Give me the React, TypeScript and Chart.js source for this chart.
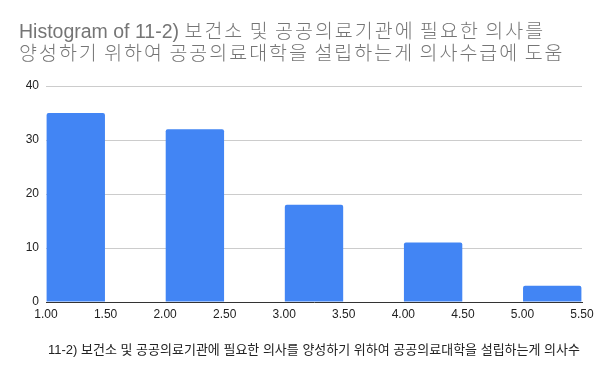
import React, { useEffect, useRef } from "react";
import { Chart, registerables } from "chart.js";

Chart.register(...registerables);

const titleLines = [
  "Histogram of 11-2) 보건소 및 공공의료기관에 필요한 의사를",
  "양성하기 위하여 공공의료대학을 설립하는게 의사수급에 도움",
];
const xAxisTitle = "11-2) 보건소 및 공공의료기관에 필요한 의사를 양성하기 위하여 공공의료대학을 설립하는게 의사수";
const binStarts = [1.0, 1.5, 2.0, 2.5, 3.0, 3.5, 4.0, 4.5, 5.0];
const counts = [35, 0, 32, 0, 18, 0, 11, 0, 3];
const xMin = 1.0;
const xMax = 5.5;
const xStep = 0.5;
const yMax = 40;
const yStep = 10;

const FONT = "Arial, 'Liberation Sans', 'Noto Sans CJK KR', sans-serif";
const TITLE_LATIN = "19.5px Arial, 'Liberation Sans', sans-serif";
const TITLE_HANGUL = "300 19.5px 'Noto Sans CJK KR', sans-serif";
const HANGUL_SPACING = "2px";
const HANGUL_RE = /([\u3131-\u318E\uAC00-\uD7A3]+)/;

const mixedTitle = {
  id: "mixedTitle",
  afterDraw(chart: any) {
    const ctx = chart.ctx as any;
    ctx.save();
    ctx.fillStyle = "#757575";
    ctx.textBaseline = "alphabetic";
    ctx.textAlign = "left";
    titleLines.forEach((line, i) => {
      let x = 19;
      const y = 38 + i * 22;
      line.split(HANGUL_RE).forEach((run) => {
        if (!run) return;
        const isHangul = HANGUL_RE.test(run);
        ctx.font = isHangul ? TITLE_HANGUL : TITLE_LATIN;
        ctx.letterSpacing = isHangul ? HANGUL_SPACING : "0px";
        ctx.fillText(run, x, y);
        x += ctx.measureText(run).width;
      });
    });
    ctx.restore();
  },
};

export default function App() {
  const ref = useRef<HTMLCanvasElement | null>(null);

  useEffect(() => {
    if (!ref.current) return;
    const chart = new Chart(ref.current, {
      type: "bar",
      data: {
        labels: binStarts.map((v) => v.toFixed(2)),
        datasets: [
          {
            data: counts,
            backgroundColor: "#4285f4",
            categoryPercentage: 1,
            barPercentage: 0.98,
            borderRadius: { topLeft: 2, topRight: 2, bottomLeft: 0, bottomRight: 0 },
            borderSkipped: false,
            xAxisID: "x",
          },
        ],
      },
      options: {
        animation: false,
        responsive: false,
        maintainAspectRatio: false,
        layout: { padding: { left: 18, right: 18, top: 86, bottom: 13 } },
        plugins: {
          legend: { display: false },
          tooltip: { enabled: false },
          title: { display: false },
        },
        scales: {
          x: {
            type: "category",
            display: false,
            offset: true,
          },
          x2: {
            type: "linear",
            position: "bottom",
            offset: false,
            min: xMin,
            max: xMax,
            grid: { display: false, drawTicks: false, offset: false },
            border: { display: true, color: "#333333", width: 1 },
            ticks: {
              stepSize: xStep,
              color: "#222222",
              font: { family: FONT, size: 12 },
              padding: 5,
              maxRotation: 0,
              autoSkip: false,
              callback: (v: any) => Number(v).toFixed(2),
            },
            afterBuildTicks: (axis: any) => {
              axis.ticks = binStarts.concat([xMax]).map((v) => ({ value: v }));
            },
            title: {
              display: true,
              text: xAxisTitle,
              color: "#222222",
              font: { family: FONT, size: 13 },
              padding: { top: 16, bottom: 0 },
            },
          },
          y: {
            min: 0,
            max: yMax,
            grid: {
              color: (ctx: any) => (ctx.tick && ctx.tick.value === 0 ? "rgba(0,0,0,0)" : "#cccccc"),
              drawTicks: false,
            },
            border: { display: false },
            ticks: {
              stepSize: yStep,
              color: "#222222",
              font: { family: FONT, size: 12 },
              padding: 7,
            },
            afterFit: (axis: any) => {
              axis.width = 28;
            },
          },
        },
      },
      plugins: [mixedTitle],
    });
    return () => chart.destroy();
  }, []);

  return (
    <div style={{ position: "absolute", left: 0, top: 0, width: 600, height: 371, background: "#fff" }}>
      <canvas ref={ref} width={600} height={371} style={{ width: 600, height: 371 }} />
    </div>
  );
}
